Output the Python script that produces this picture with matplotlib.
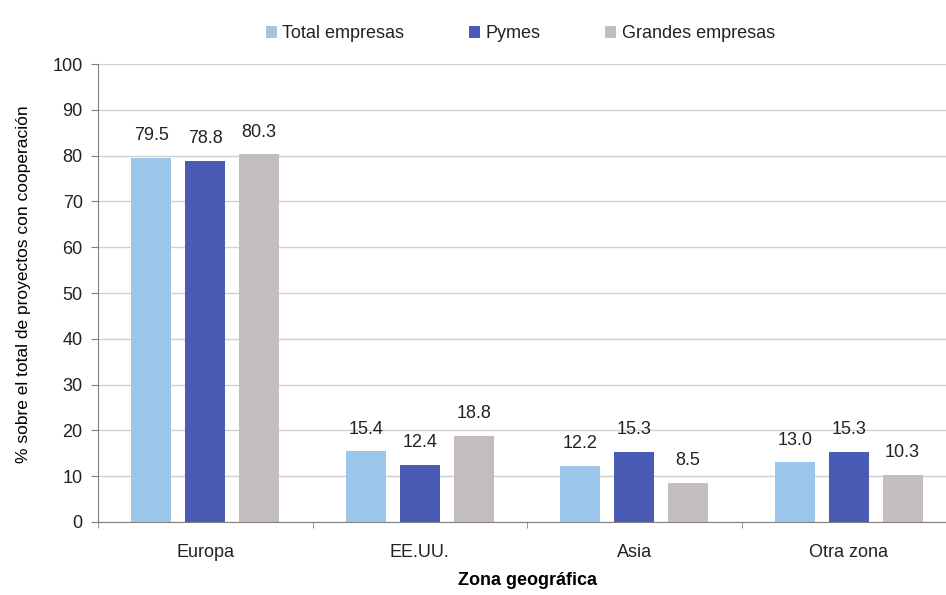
import matplotlib.pyplot as plt
import numpy as np

zonas = ["Europa", "EE.UU.", "Asia", "Otra zona"]
series = ["Total empresas", "Pymes", "Grandes empresas"]
total = [79.5, 15.4, 12.2, 13.0]
pymes = [78.8, 12.4, 15.3, 15.3]
grandes = [80.3, 18.8, 8.5, 10.3]
colores = ["#9cc5ea", "#4a5bb5", "#c3bdbe"]

plt.rcParams['font.family'] = ['Liberation Sans', 'DejaVu Sans']
plt.rcParams['text.color'] = '#222222'
plt.rcParams['xtick.labelcolor'] = '#222222'
plt.rcParams['ytick.labelcolor'] = '#222222'

fig = plt.figure(figsize=(9.46, 5.95), dpi=100)
ax = fig.add_axes([0.1036, 0.1227, 0.9070, 0.7697])

x = np.arange(len(zonas))
ancho = 0.186
paso = 0.251
for i, (nombre, vals) in enumerate(zip(series, [total, pymes, grandes])):
	pos = x + (i - 1) * paso
	barras = ax.bar(pos, vals, width=ancho, color=colores[i], label=nombre, zorder=3)
	for b, v in zip(barras, vals):
		ax.text(b.get_x() + b.get_width() / 2, v + 3.0, f"{v:.1f}",
			ha='center', va='bottom', fontsize=13)

ax.set_xlim(-0.5, len(zonas) - 0.5)
ax.set_ylim(0, 100)
ax.set_yticks(range(0, 101, 10))
ax.yaxis.grid(True, color='#d0d0d0', linewidth=1, zorder=0)
ax.set_xticks(x)
ax.set_xticklabels(zonas, fontsize=13)
ax.set_xticks(np.arange(len(zonas) + 1) - 0.5, minor=True)
ax.tick_params(axis='x', which='major', length=0, pad=16)
ax.tick_params(axis='x', which='minor', length=4, color='#808080')
ax.tick_params(axis='y', length=5, color='#808080', labelsize=13, pad=6)

for s in ['top', 'right']:
	ax.spines[s].set_visible(False)
for s in ['left', 'bottom']:
	ax.spines[s].set_color('#808080')

ax.set_ylabel("% sobre el total de proyectos con cooperación", fontsize=12.5)
ax.yaxis.set_label_coords(-0.078, 0.52)
ax.set_xlabel("Zona geográfica", fontsize=13, fontweight='bold', labelpad=8)

fig.legend(loc='upper center', bbox_to_anchor=(0.55, 0.985), ncol=3, frameon=False,
	fontsize=13, handlelength=0.6, handleheight=0.6, handletextpad=0.3, columnspacing=3.6)

fig.savefig("out.png", dpi=100)
